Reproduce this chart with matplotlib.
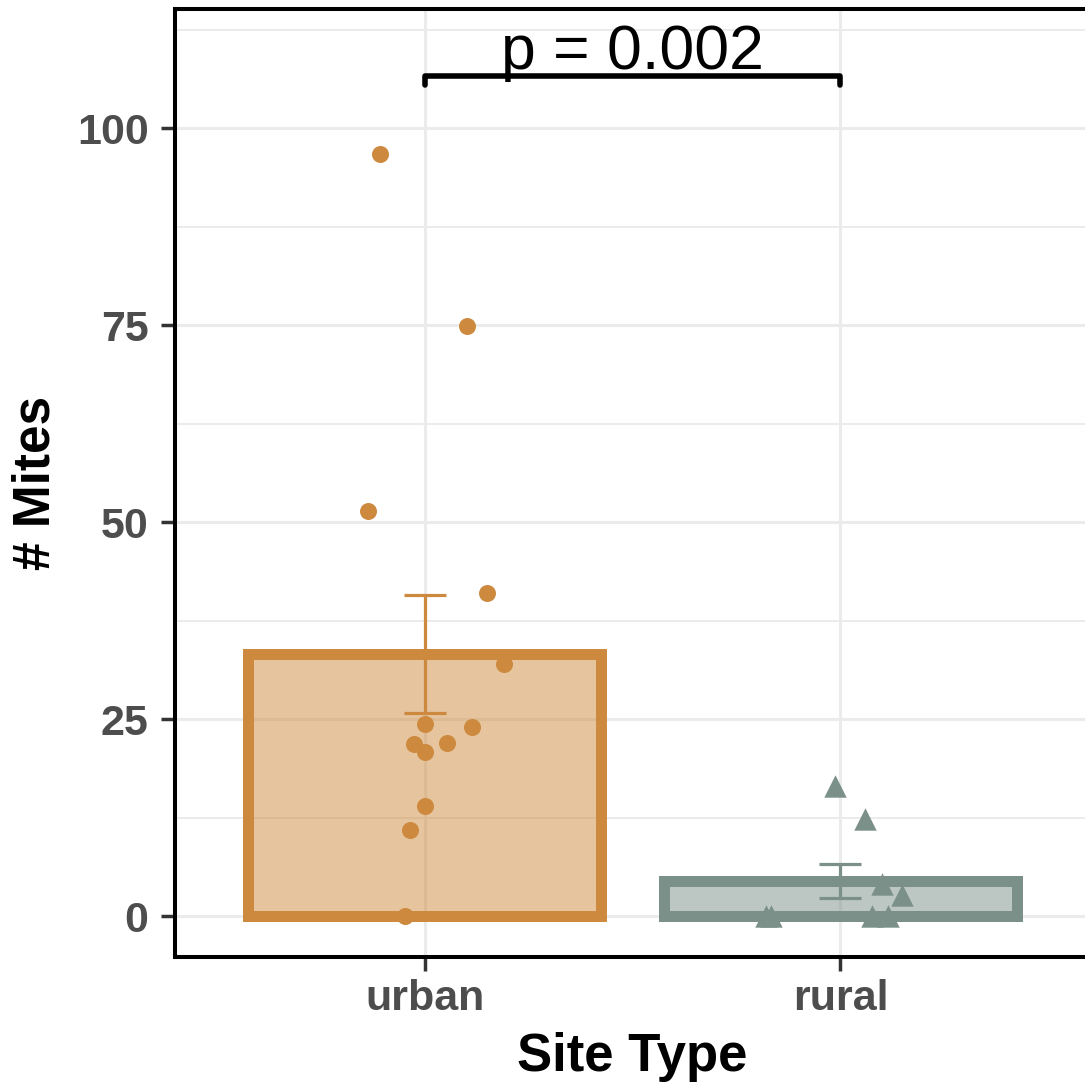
import numpy as np
import matplotlib.pyplot as plt
from matplotlib.ticker import MultipleLocator

plt.rcParams['font.family'] = ['Liberation Sans', 'DejaVu Sans']

# Daten
sites = ['urban', 'rural']
bar_mean = [33.3, 4.4]
bar_se = [7.5, 2.15]
edge_colors = ['#CD8A3E', '#7A9088']
markers = ['o', '^']

urban_mites = [96.7, 74.9, 51.4, 41.0, 32.0, 24.4, 24.0, 21.8, 20.8, 22.0, 14.0, 10.9, 0.0]
urban_jitter = [-0.106, 0.101, -0.137, 0.151, 0.190, 0.0, 0.115, -0.026, 0.0, 0.053, 0.0, -0.034, -0.046]
rural_mites = [16.5, 12.3, 4.1, 2.7, 0.0, 0.0, 0.0, 0.0]
rural_jitter = [-0.012, 0.060, 0.099, 0.149, -0.180, -0.166, 0.077, 0.115]

p_text = 'p = 0.002'
bracket_y = 106.6

fig = plt.figure(figsize=(10.85, 10.88), dpi=100)
ax = fig.add_axes([0.1613, 0.1204, 0.8433, 0.8713])

x = np.arange(1, len(sites) + 1)

# Balken mit halbtransparenter Füllung
for i in range(len(sites)):
    ax.bar(x[i], bar_mean[i], width=0.85, facecolor=edge_colors[i], alpha=0.5,
           edgecolor='none', zorder=2)
    ax.bar(x[i], bar_mean[i], width=0.85, facecolor='none',
           edgecolor=edge_colors[i], linewidth=7.9, zorder=3)
    ax.errorbar(x[i], bar_mean[i], yerr=bar_se[i], color=edge_colors[i],
                elinewidth=2.3, capsize=15, capthick=2.3, zorder=4)

# Einzelpunkte
ax.scatter(x[0] + np.array(urban_jitter), urban_mites, s=150, marker=markers[0],
           color=edge_colors[0], linewidths=0, zorder=5)
ax.scatter(x[1] + np.array(rural_jitter), rural_mites, s=260, marker=markers[1],
           color=edge_colors[1], linewidths=0, zorder=5)

# Signifikanz-Klammer
ax.plot([x[0], x[0], x[1], x[1]], [bracket_y - 1.2, bracket_y, bracket_y, bracket_y - 1.2],
        color='black', linewidth=4.0, solid_capstyle='round', solid_joinstyle='round',
        zorder=6)
ax.text((x[0] + x[1]) / 2, bracket_y + 0.9, p_text, ha='center', va='baseline',
        fontsize=45, color='black', zorder=6)

# Achsen
ax.set_xlim(0.4, 2.6)
ax.set_ylim(-5.2, 115.1)
ax.set_xticks(x)
ax.set_xticklabels(sites)
ax.set_yticks([0, 25, 50, 75, 100])
ax.yaxis.set_minor_locator(MultipleLocator(12.5))
ax.tick_params(axis='both', which='major', labelsize=31, colors='#333333',
               length=10, width=2.5, pad=6)
ax.tick_params(axis='y', which='major', pad=9)
ax.tick_params(axis='y', which='minor', length=0)
for lab in ax.get_xticklabels() + ax.get_yticklabels():
    lab.set_fontweight('bold')
    lab.set_color('#4D4D4D')

ax.grid(True, which='major', color='#EBEBEB', linewidth=2.2, zorder=0)
ax.grid(True, which='minor', axis='y', color='#EBEBEB', linewidth=1.4, zorder=0)
ax.set_axisbelow(True)

for side in ['left', 'top', 'bottom', 'right']:
    ax.spines[side].set_linewidth(2.9)
    ax.spines[side].set_color('black')

ax.set_xlabel('Site Type', fontsize=38, fontweight='bold', labelpad=9)
ax.set_ylabel('# Mites', fontsize=37, fontweight='bold', labelpad=12)

fig.savefig('out.png', dpi=100)
